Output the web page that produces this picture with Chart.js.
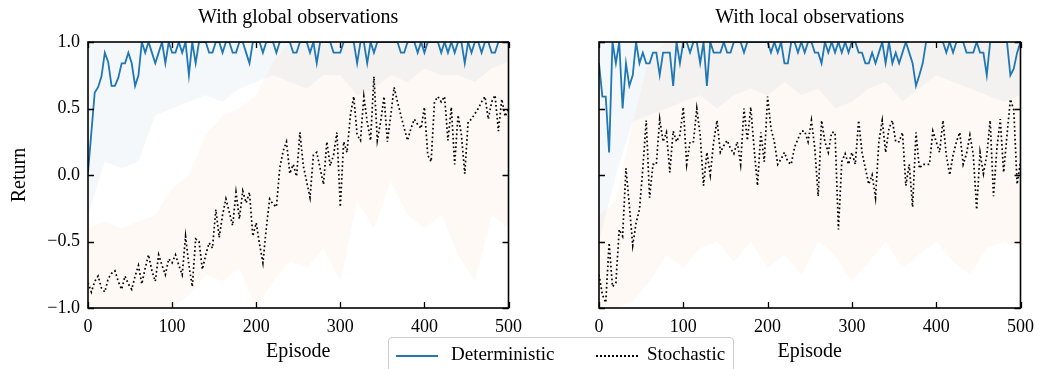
<!DOCTYPE html>
<html>
<head>
<meta charset="utf-8">
<script src="https://cdn.jsdelivr.net/npm/chart.js@4.4.0/dist/chart.umd.min.js"></script>
<style>
  body { margin: 0; background: #fff; width: 1042px; height: 369px; overflow: hidden; position: relative; font-family: "Liberation Serif", serif; }
  #globalChart { position: absolute; left: 0; top: 0; }
  #localChart { position: absolute; left: 530px; top: 0; }
  #legend {
    position: absolute; left: 388px; top: 337px; width: 346px; height: 40px;
    border: 1px solid #cccccc; border-radius: 4px; background: rgba(255,255,255,0.85);
    font-size: 19px; color: #000; box-sizing: border-box;
  }
  #legend .item { position: absolute; top: 5px; white-space: nowrap; }
  #legend .sample { position: absolute; top: 17px; width: 42px; height: 0; }
</style>
</head>
<body>
<canvas id="globalChart" width="530" height="369"></canvas>
<canvas id="localChart" width="512" height="369"></canvas>
<div id="legend">
  <span class="sample" style="left:7px; border-top:2px solid #1f77b4;"></span>
  <span class="item" style="left:62px;">Deterministic</span>
  <span class="sample" style="left:207px; border-top:2px dotted #000;"></span>
  <span class="item" style="left:258px;">Stochastic</span>
</div>
<script>
// episodes every 4 steps, 0..500
const episodes = Array.from({length: 126}, (_, i) => i * 4);
const bandEpisodes = [0, 20, 40, 60, 80, 100, 120, 140, 160, 180, 200, 220, 240, 260, 280, 300, 320, 340, 360, 380, 400, 420, 440, 460, 480, 500];

const globalDet = [
  0.02, 0.32, 0.62, 0.66, 0.74, 0.92, 0.85, 0.67, 0.67, 0.73,
  0.84, 0.84, 0.92, 0.84, 0.67, 0.75, 1.0, 0.92, 1.0, 0.92,
  0.84, 0.92, 1.0, 0.84, 1.0, 0.92, 0.92, 1.0, 0.92, 1.0,
  0.75, 1.0, 0.84, 1.0, 1.0, 1.0, 0.92, 0.92, 1.0, 1.0,
  0.92, 1.0, 1.0, 0.92, 0.92, 1.0, 1.0, 0.92, 0.84, 1.0,
  1.0, 1.0, 0.92, 1.0, 1.0, 1.0, 0.92, 1.0, 1.0, 1.0,
  1.0, 0.92, 0.92, 1.0, 1.0, 1.0, 0.92, 1.0, 0.84, 1.0,
  1.0, 1.0, 1.0, 0.92, 0.92, 0.92, 1.0, 1.0, 1.0, 1.0,
  0.84, 1.0, 1.0, 0.84, 1.0, 0.92, 1.0, 1.0, 1.0, 1.0,
  1.0, 1.0, 1.0, 0.92, 0.92, 1.0, 1.0, 1.0, 0.92, 1.0,
  0.92, 1.0, 1.0, 1.0, 1.0, 0.92, 1.0, 0.92, 1.0, 0.92,
  1.0, 1.0, 0.84, 1.0, 0.92, 1.0, 1.0, 0.92, 1.0, 1.0,
  0.92, 0.92, 1.0, 1.0, 1.0, 1.0
];
const globalStoch = [
  -0.81, -0.88, -0.80, -0.76, -0.85, -0.88, -0.78, -0.74, -0.72, -0.80,
  -0.86, -0.76, -0.82, -0.86, -0.76, -0.68, -0.82, -0.70, -0.60, -0.72,
  -0.80, -0.60, -0.68, -0.75, -0.63, -0.66, -0.60, -0.68, -0.75, -0.46,
  -0.68, -0.84, -0.48, -0.50, -0.71, -0.60, -0.51, -0.55, -0.26, -0.47,
  -0.30, -0.18, -0.28, -0.38, -0.13, -0.33, -0.12, -0.21, -0.13, -0.46,
  -0.36, -0.52, -0.66, -0.40, -0.18, -0.22, -0.24, 0.05, 0.18, 0.25,
  0.01, 0.08, -0.01, 0.32, 0.07, -0.05, -0.17, 0.15, 0.17, 0.05,
  -0.07, 0.25, 0.07, 0.15, 0.32, -0.24, 0.25, 0.17, 0.45, 0.59,
  0.30, 0.26, 0.59, 0.40, 0.26, 0.74, 0.26, 0.40, 0.59, 0.25,
  0.45, 0.66, 0.55, 0.45, 0.35, 0.26, 0.35, 0.42, 0.38, 0.35,
  0.51, 0.15, 0.10, 0.55, 0.59, 0.55, 0.59, 0.26, 0.51, 0.08,
  0.45, 0.30, 0.01, 0.40, 0.42, 0.46, 0.50, 0.55, 0.59, 0.42,
  0.55, 0.60, 0.33, 0.57, 0.44, 0.50
];
const localDet = [
  0.84, 0.59, 0.59, 0.17, 1.0, 0.84, 1.0, 0.50, 0.84, 0.67,
  0.75, 1.0, 0.84, 0.92, 0.84, 0.84, 0.92, 0.92, 0.75, 0.92,
  0.92, 0.92, 0.67, 1.0, 0.84, 1.0, 1.0, 0.92, 1.0, 1.0,
  0.84, 1.0, 0.67, 1.0, 0.92, 0.92, 0.92, 1.0, 0.92, 0.92,
  1.0, 1.0, 1.0, 0.92, 1.0, 1.0, 1.0, 1.0, 1.0, 1.0,
  1.0, 0.92, 1.0, 0.92, 1.0, 0.84, 0.84, 1.0, 1.0, 0.92,
  1.0, 0.92, 1.0, 1.0, 0.92, 0.92, 0.84, 1.0, 0.92, 1.0,
  0.92, 1.0, 0.92, 1.0, 0.92, 1.0, 1.0, 0.92, 0.92, 0.84,
  0.84, 0.92, 0.84, 0.92, 1.0, 0.84, 1.0, 0.84, 0.92, 0.84,
  0.92, 1.0, 0.92, 0.84, 0.67, 0.75, 0.84, 1.0, 1.0, 1.0,
  1.0, 1.0, 1.0, 0.92, 1.0, 0.92, 1.0, 1.0, 1.0, 0.92,
  0.92, 0.92, 1.0, 0.92, 0.92, 0.75, 1.0, 1.0, 1.0, 1.0,
  1.0, 1.0, 0.75, 0.80, 0.92, 1.0
];
const localStoch = [
  -0.75, -0.90, -0.96, -0.51, -0.84, -0.81, -0.41, -0.46, 0.05, -0.23,
  -0.53, -0.36, -0.26, 0.05, 0.41, -0.17, 0.08, 0.08, 0.42, 0.25,
  0.32, 0.02, 0.33, 0.25, 0.30, 0.51, 0.08, 0.25, 0.25, 0.50,
  0.30, -0.08, 0.17, 0.00, 0.25, 0.41, 0.17, 0.22, 0.26, 0.20,
  0.16, 0.25, 0.08, 0.50, 0.26, 0.51, 0.20, -0.08, 0.32, 0.10,
  0.59, 0.35, 0.25, 0.08, 0.12, 0.17, 0.10, 0.08, 0.21, 0.27,
  0.33, 0.33, 0.25, 0.41, 0.20, -0.16, 0.41, 0.25, 0.17, 0.32,
  0.32, -0.41, 0.10, 0.16, 0.08, 0.17, 0.08, 0.41, 0.17, 0.05,
  -0.07, 0.00, -0.17, 0.25, 0.41, 0.17, 0.35, 0.41, 0.25, 0.25,
  0.32, -0.08, 0.08, -0.24, 0.32, 0.05, 0.08, 0.08, 0.08, 0.33,
  0.25, 0.17, 0.41, 0.15, 0.00, 0.15, 0.25, 0.32, 0.08, 0.16,
  0.30, 0.15, -0.26, 0.17, 0.01, 0.15, 0.41, -0.16, 0.20, 0.42,
  0.02, 0.30, 0.57, 0.49, -0.07, 0.10
];

// spread bands (lower / upper edge), read coarsely every 20 episodes
const globalDetLow = [-0.3, 0.1, 0.05, 0.1, 0.45, 0.5, 0.55, 0.6, 0.55, 0.65, 0.7, 0.75, 0.7, 0.65, 0.75, 0.75, 0.6, 0.65, 0.75, 0.7, 0.8, 0.75, 0.75, 0.7, 0.8, 0.85];
const globalStochHigh = [-0.4, -0.35, -0.4, -0.35, -0.3, -0.1, 0.0, 0.3, 0.45, 0.5, 0.6, 0.85, 1.0, 1.0, 1.0, 1.0, 1.0, 1.0, 1.0, 1.0, 1.0, 1.0, 1.0, 1.0, 1.0, 1.0];
const globalStochLow = [-1, -1, -1, -1, -1, -1, -0.9, -0.75, -0.8, -0.7, -1, -0.8, -0.65, -0.7, -0.55, -0.8, -0.2, -0.4, -0.05, -0.3, -0.4, -0.3, -0.6, -0.8, -0.3, -0.4];
const localDetLow = [-0.5, 0.0, 0.4, 0.45, 0.5, 0.55, 0.6, 0.5, 0.6, 0.65, 0.6, 0.7, 0.6, 0.65, 0.5, 0.55, 0.65, 0.7, 0.55, 0.65, 0.75, 0.7, 0.65, 0.6, 0.55, 0.6];
const localStochHigh = [-0.3, -0.2, 0.4, 0.9, 1.0, 1.0, 1.0, 1.0, 1.0, 1.0, 1.0, 1.0, 1.0, 1.0, 1.0, 1.0, 1.0, 1.0, 1.0, 1.0, 1.0, 1.0, 1.0, 1.0, 1.0, 1.0];
const localStochLow = [-1, -1, -0.95, -0.8, -0.6, -0.7, -0.55, -0.5, -0.65, -0.5, -0.7, -0.6, -0.75, -0.5, -0.6, -0.8, -0.65, -0.5, -0.7, -0.6, -0.5, -0.65, -0.75, -0.55, -0.5, -0.55];

const xTicks = [0, 100, 200, 300, 400, 500];
const yTicks = [-1.0, -0.5, 0.0, 0.5, 1.0];

const BLUE = '#1f77b4';
const serif = '"Liberation Serif", "Times New Roman", serif';

function pts(xs, ys) {
  return xs.map((x, i) => ({x: x, y: ys[i]}));
}

// matplotlib style: closed frame, ticks pointing inward on every side
const boxTicks = {
  id: 'boxTicks',
  afterDraw(chart) {
    const {ctx, chartArea: a, scales: {x, y}} = chart;
    const len = 6;
    ctx.save();
    ctx.strokeStyle = '#000';
    ctx.lineWidth = 1.3;
    ctx.beginPath();
    x.ticks.forEach((t, i) => {
      const px = Math.round(x.getPixelForTick(i)) + 0.5;
      ctx.moveTo(px, a.bottom); ctx.lineTo(px, a.bottom - len);
      ctx.moveTo(px, a.top); ctx.lineTo(px, a.top + len);
    });
    y.ticks.forEach((t, i) => {
      const py = Math.round(y.getPixelForTick(i)) + 0.5;
      ctx.moveTo(a.left, py); ctx.lineTo(a.left + len, py);
      ctx.moveTo(a.right, py); ctx.lineTo(a.right - len, py);
    });
    ctx.stroke();
    ctx.lineWidth = 1.6;
    ctx.strokeRect(a.left, a.top, a.right - a.left, a.bottom - a.top);
    ctx.restore();
  }
};

function makeChart(id, title, det, stoch, detLow, stochHigh, stochLow, leftAxis) {
  const ctx = document.getElementById(id);
  return new Chart(ctx, {
    type: 'line',
    data: {
      datasets: [
        {
          label: 'Deterministic',
          data: pts(episodes, det),
          borderColor: BLUE,
          borderWidth: 1.8,
          pointRadius: 0,
          fill: false,
          order: 1
        },
        {
          label: 'Stochastic',
          data: pts(episodes, stoch),
          borderColor: '#000',
          borderWidth: 1.7,
          borderDash: [1.7, 2.6],
          pointRadius: 0,
          fill: false,
          order: 2
        },
        {
          label: 'det band',
          data: pts(bandEpisodes, detLow),
          borderWidth: 0,
          borderColor: 'rgba(0,0,0,0)',
          backgroundColor: 'rgba(31,119,180,0.05)',
          pointRadius: 0,
          fill: 'end',
          order: 5
        },
        {
          label: 'stoch high',
          data: pts(bandEpisodes, stochHigh),
          borderWidth: 0,
          borderColor: 'rgba(0,0,0,0)',
          pointRadius: 0,
          fill: false,
          order: 6
        },
        {
          label: 'stoch low',
          data: pts(bandEpisodes, stochLow),
          borderWidth: 0,
          borderColor: 'rgba(0,0,0,0)',
          backgroundColor: 'rgba(255,127,14,0.045)',
          pointRadius: 0,
          fill: '-1',
          order: 6
        }
      ]
    },
    options: {
      responsive: false,
      animation: false,
      layout: { padding: { left: 0, right: leftAxis ? 16 : 17, top: 0, bottom: 0 } },
      plugins: {
        legend: { display: false },
        tooltip: { enabled: false },
        title: {
          display: true,
          text: title,
          fullSize: false,
          color: '#000',
          font: { family: serif, size: 20, weight: 'normal' },
          padding: { top: 6, bottom: 12 }
        }
      },
      scales: {
        x: {
          type: 'linear',
          min: 0,
          max: 500,
          afterBuildTicks: s => { s.ticks = xTicks.map(v => ({value: v})); },
          grid: { display: false, drawTicks: false },
          border: { display: false },
          ticks: {
            color: '#000',
            padding: 8,
            maxRotation: 0,
            font: { family: serif, size: 18 }
          },
          title: {
            display: true,
            text: 'Episode',
            color: '#000',
            font: { family: serif, size: 20 },
            padding: { top: 0, bottom: 5 }
          },
          afterFit: s => { s.height = 61; }
        },
        y: {
          min: -1,
          max: 1,
          afterBuildTicks: s => { s.ticks = yTicks.map(v => ({value: v})); },
          grid: { display: false, drawTicks: false },
          border: { display: false },
          ticks: {
            display: leftAxis,
            color: '#000',
            padding: 8,
            font: { family: serif, size: 18 },
            callback: v => v.toFixed(1).replace('-', '\u2212')
          },
          title: {
            display: leftAxis,
            text: 'Return',
            color: '#000',
            font: { family: serif, size: 20 },
            padding: { top: 8, bottom: 0 }
          },
          afterFit: s => { s.width = leftAxis ? 88 : 69; }
        }
      }
    },
    plugins: [boxTicks]
  });
}

makeChart('globalChart', 'With global observations', globalDet, globalStoch,
  globalDetLow, globalStochHigh, globalStochLow, true);
makeChart('localChart', 'With local observations', localDet, localStoch,
  localDetLow, localStochHigh, localStochLow, false);
</script>
</body>
</html>
